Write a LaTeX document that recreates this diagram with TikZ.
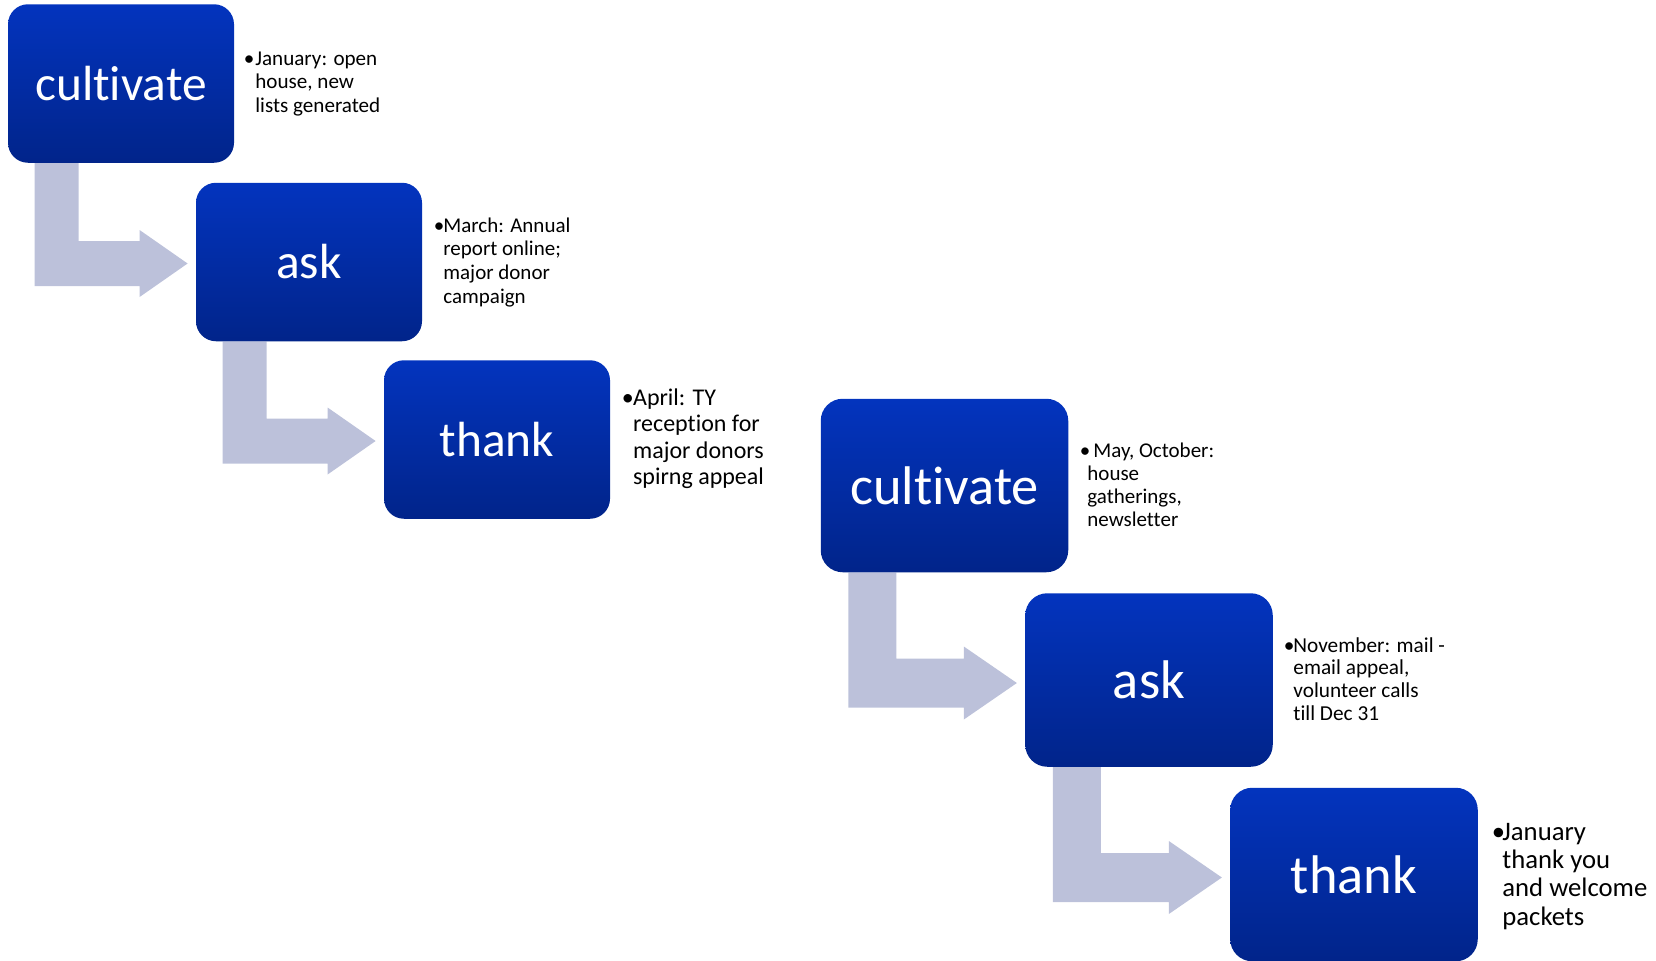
\documentclass[tikz,border=0pt]{standalone}
\usepackage{fontspec}
\setmainfont{Carlito}[Ligatures=NoCommon]
\usetikzlibrary{calc}
\definecolor{boxtop}{RGB}{3,52,190}
\definecolor{boxbot}{RGB}{1,36,138}
\definecolor{arrowgrey}{RGB}{188,193,218}
\pgfdeclarelayer{bg}
\pgfsetlayers{bg,main}
% bent arrow from box #1 to box #2
% #3 stem offset, #4 stem width, #5 band half, #6 head base offset, #7 head half, #8 dy
\newcommand\bentarrow[8]{%
  \begin{pgfonlayer}{bg}
  \fill[fill=arrowgrey] let \p1=(#1.south west), \p2=(#2.west) in
    (\x1+#3, \y1) -- (\x1+#3+#4, \y1) -- (\x1+#3+#4, \y2-#8+#5)
    -- (\x2-#6, \y2-#8+#5) -- (\x2-#6, \y2-#8+#7) -- (\x2-4pt, \y2-#8)
    -- (\x2-#6, \y2-#8-#7) -- (\x2-#6, \y2-#8-#5) -- (\x1+#3, \y2-#8-#5) -- cycle;
  \end{pgfonlayer}}
\newcommand\bl[1]{\makebox[#1][l]{\char"2022}}
\begin{document}
\begin{tikzpicture}[x=0.5pt,y=-0.5pt,
  stepbox/.style={rectangle, inner sep=0pt, top color=boxtop, bottom color=boxbot,
    text=white},
  smallbox/.style={stepbox, rounded corners=10pt, minimum width=113pt, minimum height=79.25pt,
    font=\fontsize{24.7}{29.6}\selectfont},
  bigbox/.style={stepbox, rounded corners=11pt, minimum width=123.75pt, minimum height=86.75pt,
    font=\fontsize{27.2}{32.6}\selectfont},
  note/.style={inner sep=0pt, anchor=base west, text=black}]
\useasboundingbox (0,0) rectangle (1656,960);

% first cycle
\node[smallbox] (c1) at (121,83.5) {cultivate};
\node[smallbox] (a1) at (309,262) {ask};
\node[smallbox] (t1) at (497,439.5) {thank};
% second cycle
\node[bigbox] (c2) at (944.5,485.5) {cultivate};
\node[bigbox] (a2) at (1149,680) {ask};
\node[bigbox] (t2) at (1354,874.5) {thank};

\bentarrow{c1}{a1}{13.5pt}{22pt}{11.25pt}{28pt}{16.75pt}{0.75pt}
\bentarrow{a1}{t1}{13.5pt}{22pt}{11.25pt}{28pt}{16.75pt}{0.75pt}
\bentarrow{c2}{a2}{14pt}{24pt}{12.25pt}{30.5pt}{18.25pt}{1.5pt}
\bentarrow{a2}{t2}{14pt}{24pt}{12.25pt}{30.5pt}{18.25pt}{1.5pt}

% notes
\node[note, font=\fontsize{10.55}{11.75}\selectfont] (n1) at (243.5,65)
  {\begin{tabular}[t]{@{}l@{}l@{}}\bl{5.75pt}&January: open\\&house, new\\&lists generated\end{tabular}};
\node[note, font=\fontsize{10.5}{11.85}\selectfont] (n2) at (433.5,232)
  {\begin{tabular}[t]{@{}l@{}l@{}}\bl{4.75pt}&March: Annual\\&report online;\\&major donor\\&campaign\end{tabular}};
\node[note, font=\fontsize{12}{13.3}\selectfont] (n3) at (621.5,405)
  {\begin{tabular}[t]{@{}l@{}l@{}}\bl{5.6pt}&April: TY\\&reception for\\&major donors\\&spirng appeal\end{tabular}};
\node[note, font=\fontsize{10.5}{11.5}\selectfont] (n4) at (1079.5,457)
  {\begin{tabular}[t]{@{}l@{}l@{}}\bl{3.75pt}&\hspace{3pt}May, October:\\&house\\&gatherings,\\&newsletter\end{tabular}};
\node[note, font=\fontsize{10.65}{11.35}\selectfont] (n5) at (1283.5,652)
  {\begin{tabular}[t]{@{}l@{}l@{}}\bl{4.75pt}&November: mail -\\&email appeal,\\&volunteer calls\\&till Dec 31\end{tabular}};
\node[note, font=\fontsize{13.35}{14.2}\selectfont] (n6) at (1491.5,840)
  {\begin{tabular}[t]{@{}l@{}l@{}}\bl{5.25pt}&January\\&thank you\\&and welcome\\&packets\end{tabular}};
\end{tikzpicture}
\end{document}
